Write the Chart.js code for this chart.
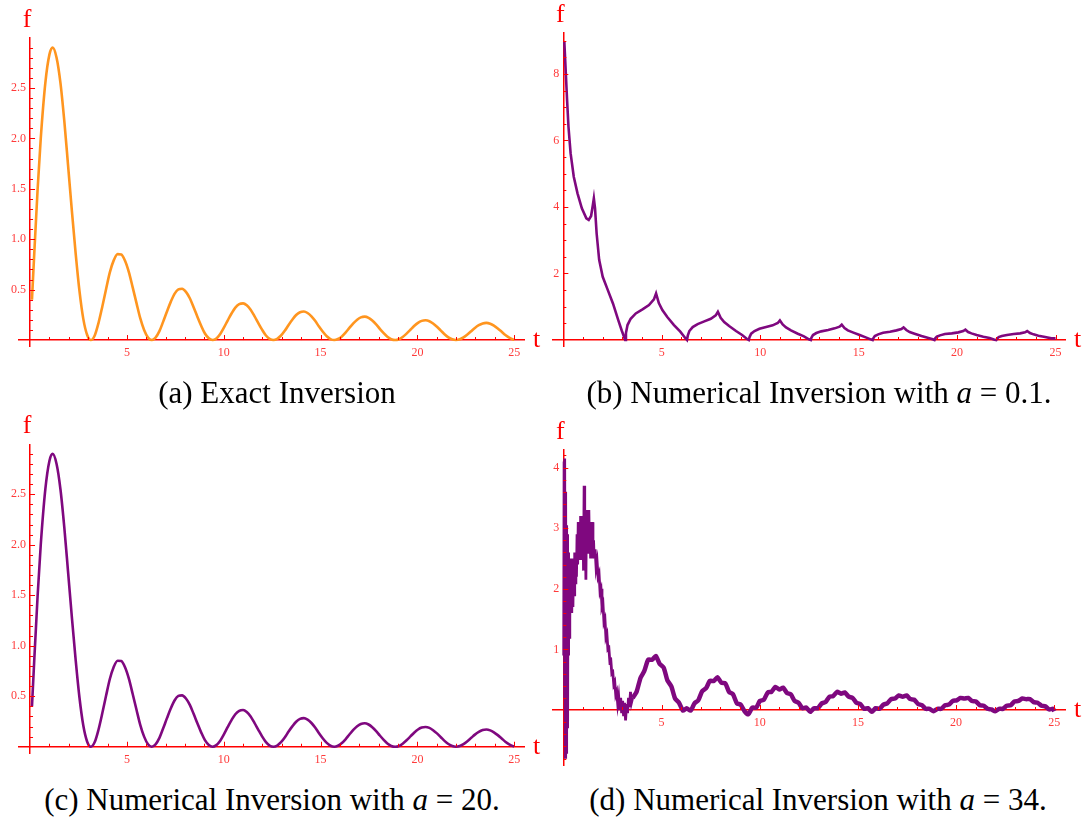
<!DOCTYPE html>
<html>
<head>
<meta charset="utf-8">
<title>Inversion plots</title>
<script src="https://cdn.jsdelivr.net/npm/chart.js@4.4.1/dist/chart.umd.min.js"></script>
<style>
  body { margin: 0; background: #fff; width: 1085px; height: 817px; position: relative; overflow: hidden; }
  canvas { position: absolute; }
  .cap {
    position: absolute; transform: translateX(-50%);
    font-family: "Liberation Serif", "Times New Roman", serif; font-size: 31px;
    line-height: 36px; color: #000; white-space: nowrap;
  }
</style>
</head>
<body>
<canvas id="chartA" width="545" height="365" style="left:0;top:0"></canvas>
<canvas id="chartB" width="540" height="365" style="left:545px;top:0"></canvas>
<canvas id="chartC" width="545" height="365" style="left:0;top:405px"></canvas>
<canvas id="chartD" width="540" height="370" style="left:545px;top:405px"></canvas>

<div class="cap" style="left:277px;top:375px">(a) Exact Inversion</div>
<div class="cap" style="left:819px;top:375px">(b) Numerical Inversion with <i>a</i> = 0.1.</div>
<div class="cap" style="left:272px;top:782px">(c) Numerical Inversion with <i>a</i> = 20.</div>
<div class="cap" style="left:818px;top:782px">(d) Numerical Inversion with <i>a</i> = 34.</div>

<script>
// exact inversion (also what a = 20 gives)
const tExact = [
  0.10, 0.20, 0.39, 0.55, 0.79, 1.00, 1.17, 1.37, 1.57, 1.77, 1.96, 2.16, 2.36, 2.55, 2.75, 2.95,
  3.14, 3.34, 3.53, 3.73, 3.93, 4.12, 4.32, 4.52, 4.71, 4.91, 5.11, 5.30, 5.50, 5.69, 5.89, 6.09,
  6.28, 6.48, 6.68, 6.87, 7.07, 7.27, 7.46, 7.66, 7.85, 8.05, 8.25, 8.44, 8.64, 8.84, 9.03, 9.23,
  9.42, 9.62, 9.82, 10.01, 10.21, 10.41, 10.60, 10.80, 11.00, 11.19, 11.39, 11.58, 11.78, 11.98, 12.17, 12.37,
  12.57, 12.76, 12.96, 13.16, 13.35, 13.55, 13.74, 13.94, 14.14, 14.33, 14.53, 14.73, 14.92, 15.12, 15.32, 15.51,
  15.71, 15.90, 16.10, 16.30, 16.49, 16.69, 16.89, 17.08, 17.28, 17.48, 17.67, 17.87, 18.06, 18.26, 18.45, 18.65,
  18.85, 19.05, 19.24, 19.44, 19.64, 19.83, 20.03, 20.22, 20.42, 20.62, 20.81, 21.01, 21.21, 21.40, 21.60, 21.80,
  21.99, 22.19, 22.38, 22.58, 22.78, 22.97, 23.17, 23.37, 23.56, 23.76, 23.95, 24.15, 24.35, 24.54, 24.74, 24.94,
  25.00,
];
const fExact = [
  0.40, 0.79, 1.49, 1.99, 2.55, 2.83, 2.90, 2.80, 2.55, 2.17, 1.74, 1.28, 0.85, 0.49, 0.21, 0.05,
  0, 0.046, 0.166, 0.331, 0.509, 0.671, 0.790, 0.852, 0.849, 0.784, 0.669, 0.522, 0.364, 0.217, 0.100, 0.025,
  0, 0.024, 0.088, 0.180, 0.283, 0.381, 0.458, 0.503, 0.509, 0.478, 0.414, 0.328, 0.232, 0.140, 0.065, 0.017,
  0, 0.016, 0.060, 0.123, 0.196, 0.266, 0.322, 0.356, 0.364, 0.344, 0.300, 0.239, 0.170, 0.103, 0.048, 0.012,
  0, 0.012, 0.045, 0.094, 0.150, 0.204, 0.248, 0.276, 0.283, 0.268, 0.235, 0.188, 0.134, 0.082, 0.038, 0.010,
  0, 0.010, 0.036, 0.076, 0.121, 0.166, 0.202, 0.225, 0.232, 0.220, 0.193, 0.155, 0.111, 0.068, 0.032, 0.008,
  0, 0.008, 0.030, 0.064, 0.102, 0.139, 0.171, 0.190, 0.196, 0.187, 0.164, 0.132, 0.094, 0.058, 0.027, 0.007,
  0, 0.007, 0.026, 0.055, 0.088, 0.120, 0.147, 0.165, 0.170, 0.162, 0.143, 0.115, 0.082, 0.050, 0.024, 0.006,
  0.003,
];

// a = 0.1 : cusped curve
const tSmallA = [
  0.05, 0.11, 0.19, 0.26, 0.37, 0.53, 0.72, 0.94, 1.17, 1.29, 1.41, 1.50, 1.55, 1.61, 1.69, 1.82,
  2.00, 2.26, 2.52, 2.79, 2.97,
  3.14, 3.18, 3.26, 3.42, 3.68, 4.02, 4.35, 4.60, 4.71, 4.85, 5.03, 5.28, 5.62, 5.94, 6.19,
  6.28, 6.32, 6.40, 6.57, 6.82, 7.16, 7.49, 7.74, 7.85, 7.99, 8.17, 8.42, 8.77, 9.08, 9.33,
  9.42, 9.46, 9.54, 9.71, 9.96, 10.30, 10.63, 10.89, 11.00, 11.14, 11.31, 11.56, 11.91, 12.22, 12.47,
  12.57, 12.60, 12.68, 12.85, 13.10, 13.45, 13.78, 14.03, 14.14, 14.28, 14.45, 14.70, 15.05, 15.36, 15.61,
  15.71, 15.75, 15.82, 15.99, 16.24, 16.59, 16.92, 17.17, 17.28, 17.42, 17.59, 17.84, 18.19, 18.50, 18.76,
  18.85, 18.89, 18.97, 19.13, 19.38, 19.73, 20.06, 20.31, 20.42, 20.56, 20.73, 20.99, 21.33, 21.65, 21.90,
  21.99, 22.03, 22.11, 22.27, 22.53, 22.87, 23.20, 23.45, 23.56, 23.70, 23.88, 24.13, 24.47, 24.79, 25.00,
];
const fSmallA = [
  8.97, 8.22, 7.22, 6.42, 5.61, 4.91, 4.41, 3.96, 3.66, 3.61, 3.73, 4.06, 4.26, 3.96, 3.21, 2.41,
  1.90, 1.50, 1.10, 0.60, 0.28,
  0, 0.21, 0.45, 0.64, 0.80, 0.92, 1.05, 1.22, 1.40, 1.11, 0.90, 0.69, 0.45, 0.25, 0.06,
  0, 0.13, 0.27, 0.39, 0.48, 0.56, 0.64, 0.74, 0.85, 0.67, 0.54, 0.42, 0.27, 0.15, 0.03,
  0, 0.09, 0.19, 0.27, 0.34, 0.39, 0.44, 0.51, 0.59, 0.47, 0.38, 0.29, 0.19, 0.11, 0.02,
  0, 0.07, 0.15, 0.21, 0.26, 0.30, 0.35, 0.40, 0.46, 0.36, 0.29, 0.23, 0.15, 0.08, 0.02,
  0, 0.06, 0.12, 0.17, 0.22, 0.25, 0.29, 0.33, 0.38, 0.30, 0.24, 0.19, 0.12, 0.07, 0.02,
  0, 0.05, 0.10, 0.14, 0.18, 0.20, 0.23, 0.27, 0.31, 0.24, 0.20, 0.15, 0.10, 0.06, 0.01,
  0, 0.04, 0.09, 0.12, 0.15, 0.18, 0.20, 0.23, 0.27, 0.21, 0.17, 0.13, 0.09, 0.05, 0.05,
];

// a = 34 : noisy start ...
const tNoisyHead = [
  0.02, 0.04, 0.06, 0.08, 0.10, 0.12, 0.14, 0.16, 0.18, 0.20, 0.22, 0.24, 0.26, 0.28, 0.30, 0.32,
  0.34, 0.36, 0.38, 0.40, 0.43, 0.46, 0.49, 0.52, 0.55, 0.58, 0.61, 0.64, 0.67, 0.70, 0.73, 0.76,
  0.79, 0.82, 0.85, 0.88, 0.91, 0.94, 0.97, 1.00, 1.03, 1.06, 1.09, 1.12, 1.15, 1.18, 1.21, 1.24,
  1.27, 1.30, 1.33, 1.36, 1.39, 1.42, 1.45, 1.48, 1.51, 1.54, 1.57, 1.62, 1.67, 1.72, 1.77, 1.82,
  1.87, 1.92, 1.97, 2.02, 2.07, 2.12, 2.17, 2.22, 2.27, 2.32, 2.37, 2.42, 2.47, 2.52, 2.57, 2.62,
  2.67, 2.72, 2.77, 2.82, 2.87, 2.92, 2.97, 3.02, 3.07, 3.12, 3.17, 3.22, 3.27, 3.32, 3.37, 3.42,
  3.47, 3.53,
];
const fNoisyHead = [
  0.9, 4.1, 0.2, 4.15, -0.78, 3.6, -0.7, 3.05, 0.6, 2.9, -0.3, 2.6, 0.9, 2.5, 1.2, 2.3,
  1.5, 2.5, 1.6, 2.2, 1.6, 2.4, 1.7, 2.5, 1.9, 2.6, 2.1, 2.6, 2.2, 2.9, 2.4, 3.1,
  2.5, 3.0, 2.5, 3.2, 2.6, 3.1, 2.5, 3.2, 2.3, 3.7, 2.6, 3.2, 2.15, 3.3, 2.6, 3.2,
  2.6, 3.3, 2.7, 3.1, 2.5, 3.0, 2.6, 3.1, 2.5, 2.8, 2.5, 2.65, 2.35, 2.45, 2.2, 2.25,
  1.95, 2.0, 1.7, 1.75, 1.45, 1.5, 1.2, 1.25, 1.0, 1.02, 0.8, 0.82, 0.6, 0.62, 0.42, 0.46,
  0.25, 0.3, 0.1, 0.22, 0.0, 0.2, -0.05, 0.15, -0.1, 0.12, -0.17, 0.1, -0.05, 0.2, 0.05, 0.3,
  0.12, 0.2,
];
// ... and fuzzy tail
const tNoisyTail = [
  3.53, 3.73, 3.93, 4.12, 4.32, 4.52, 4.71, 4.91, 5.11, 5.30, 5.50, 5.69, 5.89, 6.09, 6.28, 6.48,
  6.68, 6.87, 7.07, 7.27, 7.46, 7.66, 7.85, 8.05, 8.25, 8.44, 8.64, 8.84, 9.03, 9.23, 9.42, 9.62,
  9.82, 10.01, 10.21, 10.41, 10.60, 10.80, 11.00, 11.19, 11.39, 11.58, 11.78, 11.98, 12.17, 12.37, 12.57, 12.76,
  12.96, 13.16, 13.35, 13.55, 13.74, 13.94, 14.14, 14.33, 14.53, 14.73, 14.92, 15.12, 15.32, 15.51, 15.71, 15.90,
  16.10, 16.30, 16.49, 16.69, 16.89, 17.08, 17.28, 17.48, 17.67, 17.87, 18.06, 18.26, 18.45, 18.65, 18.85, 19.05,
  19.24, 19.44, 19.64, 19.83, 20.03, 20.22, 20.42, 20.62, 20.81, 21.01, 21.21, 21.40, 21.60, 21.80, 21.99, 22.19,
  22.38, 22.58, 22.78, 22.97, 23.17, 23.37, 23.56, 23.76, 23.95, 24.15, 24.35, 24.54, 24.74, 24.94, 25.00,
];
const fNoisyTail = [
  0.20, 0.30, 0.53, 0.64, 0.83, 0.83, 0.89, 0.76, 0.70, 0.49, 0.39, 0.19, 0.12, -0.01, 0.03, -0.01,
  0.11, 0.16, 0.31, 0.36, 0.48, 0.48, 0.54, 0.45, 0.44, 0.30, 0.26, 0.11, 0.09, -0.02, -0.07, 0.04,
  0.04, 0.15, 0.17, 0.29, 0.30, 0.38, 0.34, 0.37, 0.28, 0.26, 0.15, 0.12, 0.03, 0.04, -0.03, 0.03,
  0.03, 0.11, 0.13, 0.22, 0.23, 0.30, 0.27, 0.29, 0.22, 0.20, 0.12, 0.10, 0.02, 0.03, -0.03, 0.03,
  0.02, 0.09, 0.11, 0.18, 0.19, 0.24, 0.22, 0.24, 0.18, 0.17, 0.10, 0.08, 0.02, 0.02, -0.02, 0.02,
  0.02, 0.08, 0.09, 0.15, 0.16, 0.20, 0.19, 0.20, 0.15, 0.14, 0.08, 0.07, 0.02, 0.01, -0.02, 0.02,
  0.02, 0.07, 0.08, 0.14, 0.15, 0.19, 0.18, 0.18, 0.13, 0.12, 0.07, 0.06, 0.01, 0.02, -0.02,
];

// tick labels
const xTickValues = [5, 10, 15, 20, 25];
const xTickLabels = ["5", "10", "15", "20", "25"];
const yTickValuesAC = [0.5, 1.0, 1.5, 2.0, 2.5];
const yTickLabelsAC = ["0.5", "1.0", "1.5", "2.0", "2.5"];
const yTickValuesB = [2, 4, 6, 8];
const yTickLabelsB = ["2", "4", "6", "8"];
const yTickValuesD = [1, 2, 3, 4];
const yTickLabelsD = ["1", "2", "3", "4"];

const axisRed = "#ff0000";
const tickLabelRed = "#ff3a3a";
const orange = "#ff951f";
const purple = "#7f087f";
const tickFontCss = '12px "Liberation Serif", serif';

const toPoints = (ts, fs) => ts.map((t, i) => ({ x: t, y: fs[i] }));

// Mathematica style: ticks point into the plot, y labels left of the axis, f / t at the axis ends
const mathAxes = {
  id: "mathAxes",
  afterDraw(chart, args, opts) {
    const { ctx, chartArea } = chart;
    const xs = chart.scales.x;
    const ys = chart.scales.y;
    const x0 = xs.getPixelForValue(0);
    const y0 = ys.getPixelForValue(0);
    const isMajor = (v, list) => list.some((m) => Math.abs(m - v) < 1e-6);

    ctx.save();
    ctx.strokeStyle = axisRed;
    ctx.lineWidth = 1;
    ctx.beginPath();
    // x ticks
    for (let i = 1; i * opts.xMinor <= xs.max + 1e-9; i++) {
      const v = i * opts.xMinor;
      const px = Math.round(xs.getPixelForValue(v)) + 0.5;
      const len = isMajor(v, xTickValues) ? 5 : 3;
      ctx.moveTo(px, y0);
      ctx.lineTo(px, y0 - len);
    }
    // y ticks, both sides of zero
    const yMin = Math.ceil(ys.min / opts.yMinor - 1e-9);
    const yMax = Math.floor(ys.max / opts.yMinor + 1e-9);
    for (let i = yMin; i <= yMax; i++) {
      if (i === 0) continue;
      const v = i * opts.yMinor;
      const py = Math.round(ys.getPixelForValue(v)) + 0.5;
      const len = isMajor(v, opts.yMajor) ? 5 : 3;
      ctx.moveTo(x0, py);
      ctx.lineTo(x0 + len, py);
    }
    ctx.stroke();

    // y tick labels (chart.js puts them right on the axis for a value position)
    ctx.fillStyle = tickLabelRed;
    ctx.font = tickFontCss;
    ctx.textAlign = "right";
    ctx.textBaseline = "middle";
    opts.yMajor.forEach((v, i) => {
      ctx.fillText(opts.yLabels[i], x0 - 4, ys.getPixelForValue(v));
    });

    ctx.fillStyle = axisRed;
    ctx.font = '26px "Liberation Serif", serif';
    ctx.textAlign = "center";
    ctx.textBaseline = "alphabetic";
    ctx.fillText("f", x0 - 3, chartArea.top - 11);
    ctx.fillText("t", chartArea.right + 12, y0 + 7);
    ctx.restore();
  },
};

const makePlot = (id, datasets, cfg) => {
  return new Chart(document.getElementById(id), {
    type: "line",
    data: { datasets },
    options: {
      responsive: false,
      animation: false,
      devicePixelRatio: 1,
      layout: { padding: cfg.padding },
      plugins: {
        legend: { display: false },
        tooltip: { enabled: false },
        mathAxes: { xMinor: 1, yMinor: cfg.yMinor, yMajor: cfg.yTickValues, yLabels: cfg.yTickLabels },
      },
      elements: { point: { radius: 0 } },
      scales: {
        x: {
          type: "linear",
          axis: "x",
          min: cfg.xMin,
          max: cfg.xMax,
          position: { y: 0 },
          grid: { display: false, drawTicks: false },
          border: { display: true, color: axisRed, width: 1.5 },
          afterBuildTicks: (axis) => {
            axis.ticks = xTickValues.map((v) => ({ value: v }));
          },
          ticks: {
            color: tickLabelRed,
            font: { family: '"Liberation Serif", serif', size: 12 },
            padding: 6,
            autoSkip: false,
            maxRotation: 0,
            callback: (v, i) => xTickLabels[i],
          },
        },
        y: {
          type: "linear",
          axis: "y",
          min: cfg.yMin,
          max: cfg.yMax,
          position: { x: 0 },
          grid: { display: false, drawTicks: false },
          border: { display: true, color: axisRed, width: 1.5 },
          ticks: { display: false },
        },
      },
    },
    plugins: [mathAxes],
  });
};

// (a) exact
makePlot(
  "chartA",
  [{ data: toPoints(tExact, fExact), borderColor: orange, borderWidth: 2.6, cubicInterpolationMode: "monotone" }],
  {
    xMin: -0.57, xMax: 25.53, yMin: -0.066, yMax: 2.995, yMinor: 0.1,
    yTickValues: yTickValuesAC, yTickLabels: yTickLabelsAC,
    padding: { left: 19, right: 20.5, top: 38, bottom: 18.3 },
  }
);

// (b) a = 0.1
makePlot(
  "chartB",
  [{ data: toPoints(tSmallA, fSmallA), borderColor: purple, borderWidth: 2.6, tension: 0 }],
  {
    xMin: -0.53, xMax: 25.51, yMin: -0.18, yMax: 9.24, yMinor: 0.5,
    yTickValues: yTickValuesB, yTickLabels: yTickLabelsB,
    padding: { left: 7.9, right: 19.4, top: 32.7, bottom: 19 },
  }
);

// (c) a = 20
makePlot(
  "chartC",
  [{ data: toPoints(tExact, fExact), borderColor: purple, borderWidth: 2.6, cubicInterpolationMode: "monotone" }],
  {
    xMin: -0.57, xMax: 25.53, yMin: -0.066, yMax: 2.995, yMinor: 0.1,
    yTickValues: yTickValuesAC, yTickLabels: yTickLabelsAC,
    padding: { left: 19, right: 20.5, top: 39.3, bottom: 16.6 },
  }
);

// (d) a = 34
makePlot(
  "chartD",
  [
    { data: toPoints(tNoisyHead, fNoisyHead), borderColor: purple, borderWidth: 2.8, tension: 0 },
    { data: toPoints(tNoisyTail, fNoisyTail), borderColor: purple, borderWidth: 4.5, tension: 0.2 },
  ],
  {
    xMin: -0.53, xMax: 25.57, yMin: -0.92, yMax: 4.29, yMinor: 0.2,
    yTickValues: yTickValuesD, yTickLabels: yTickLabelsD,
    padding: { left: 7.9, right: 19.5, top: 45, bottom: 9.2 },
  }
);
</script>
</body>
</html>
